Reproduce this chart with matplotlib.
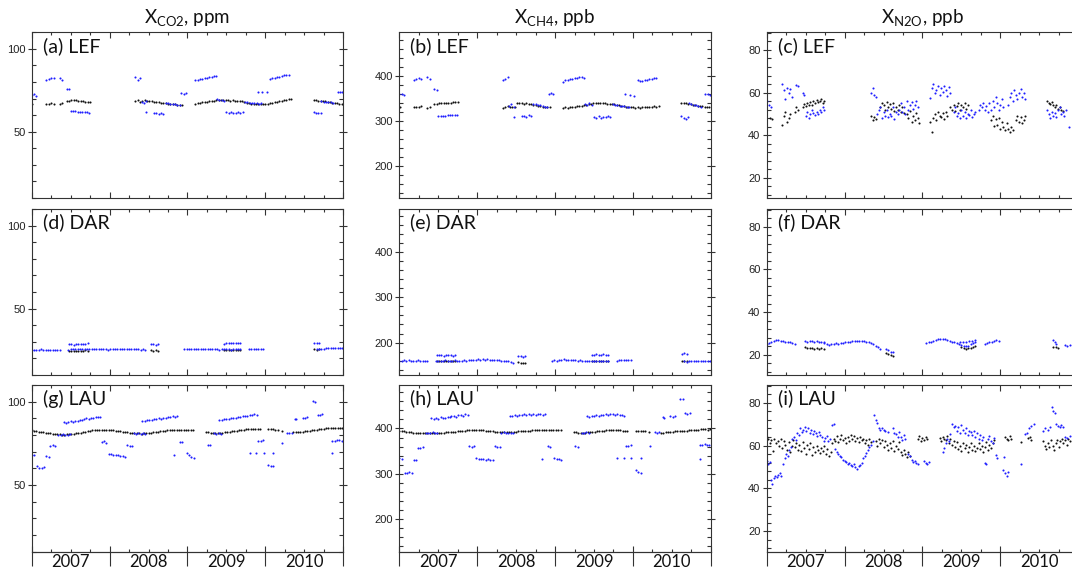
import matplotlib.pyplot as plt
from matplotlib.ticker import MultipleLocator

plt.rcParams['font.family'] = ['Lato', 'DejaVu Sans']

# ---------------- LEF : CO2 / CH4 (same sampling times) ----------------
lef_blue_t = [2007.00, 2007.03, 2007.06,
              2007.19, 2007.22, 2007.25, 2007.28,
              2007.36, 2007.39,
              2007.45, 2007.48,
              2007.50, 2007.53, 2007.56, 2007.59, 2007.62, 2007.65, 2007.68, 2007.71, 2007.74,
              2008.33, 2008.36, 2008.39,
              2008.41, 2008.44, 2008.47, 2008.47,
              2008.57, 2008.60, 2008.63, 2008.66, 2008.69,
              2008.72, 2008.75, 2008.78, 2008.81, 2008.84, 2008.87, 2008.90,
              2008.92, 2008.95, 2008.98,
              2009.10, 2009.13, 2009.16, 2009.19, 2009.22, 2009.25, 2009.28, 2009.31, 2009.34, 2009.37,
              2009.38, 2009.41, 2009.44, 2009.47,
              2009.50, 2009.53, 2009.56, 2009.59, 2009.62, 2009.65, 2009.68, 2009.71,
              2009.74, 2009.77, 2009.80, 2009.83, 2009.86, 2009.89, 2009.92, 2009.95,
              2009.90, 2009.96, 2010.02,
              2010.06, 2010.09, 2010.12, 2010.15, 2010.18, 2010.21, 2010.24, 2010.27, 2010.30,
              2010.62, 2010.65, 2010.68, 2010.71,
              2010.72, 2010.75, 2010.78, 2010.81, 2010.84, 2010.87,
              2010.93, 2010.96, 2010.99]
lef_co2_blue = [72, 72.5, 71.8,
                81.5, 82, 82.3, 82.5,
                82.5, 81.5,
                75.8, 75.5,
                62.5, 62.4, 62.3, 62.2, 62, 61.9, 61.8, 61.6, 61.5,
                83, 81, 82.5,
                68, 67.5, 68.5, 62,
                61.5, 61, 60.8, 61.2, 60.5,
                67.5, 67.2, 67, 66.8, 66.5, 66.3, 66,
                73.2, 73, 73.3,
                81.2, 81.5, 81.8, 82, 82.3, 82.6, 83, 83.3, 83.6, 83.8,
                69.5, 69, 69.2, 68.8,
                62, 61.5, 61.8, 61, 61.5, 62, 61.3, 61.8,
                68, 67.8, 67.5, 67.3, 67.5, 67.2, 67, 67.2,
                74, 74.2, 73.8,
                82, 82.3, 82.6, 83, 83.3, 83.6, 84, 84.2, 84.5,
                62, 61.5, 61, 61.3,
                68.5, 68.2, 68, 67.8, 68, 67.6,
                74, 74.2, 74]
lef_ch4_blue = [358, 360, 357,
                391, 393, 394, 392,
                396, 393,
                369, 368,
                310, 310, 311, 311, 312, 312, 312, 313, 313,
                389, 393, 396,
                333, 336, 331, 308,
                310, 311, 309, 312, 310,
                336, 337, 335, 334, 332, 331, 330,
                358, 362, 360,
                386, 389, 391, 392, 393, 394, 395, 396, 397, 395,
                336, 334, 338, 335,
                308, 305, 310, 306, 309, 307, 311, 308,
                336, 334, 335, 333, 332, 333, 331, 330,
                359, 356, 355,
                389, 388, 387, 389, 390, 392, 393, 394, 395,
                310, 306, 304, 308,
                338, 336, 335, 334, 333, 331,
                358, 359, 357]

lef_black_t = [2007.01,
               2007.19, 2007.22, 2007.25, 2007.28,
               2007.36, 2007.39,
               2007.45, 2007.48, 2007.51, 2007.54, 2007.57, 2007.60, 2007.63, 2007.66, 2007.69, 2007.72, 2007.75,
               2008.33, 2008.36, 2008.39, 2008.42, 2008.45, 2008.48,
               2008.51, 2008.54, 2008.57, 2008.60, 2008.63, 2008.66, 2008.69, 2008.72, 2008.75, 2008.78,
               2008.81, 2008.84, 2008.87, 2008.90, 2008.93,
               2009.10, 2009.13, 2009.16, 2009.19, 2009.22, 2009.25, 2009.28, 2009.31, 2009.34,
               2009.37, 2009.40, 2009.43, 2009.46, 2009.49, 2009.52, 2009.55, 2009.58, 2009.61, 2009.64,
               2009.67, 2009.70, 2009.73,
               2009.76, 2009.79, 2009.82, 2009.85, 2009.88, 2009.91, 2009.94, 2009.97, 2010.00,
               2010.03, 2010.06, 2010.09, 2010.12, 2010.15, 2010.18, 2010.21, 2010.24, 2010.27, 2010.30, 2010.33,
               2010.62, 2010.65, 2010.68, 2010.71, 2010.74, 2010.77, 2010.80, 2010.83, 2010.86, 2010.89,
               2010.92, 2010.95, 2010.98]
lef_co2_black = [66.5,
                 66.5, 67, 67.2, 67,
                 66.5, 67.5,
                 68.5, 68.8, 69, 69.1, 69, 68.8, 68.6, 68.4, 68.2, 68, 67.8,
                 68.5, 69, 68, 68.5, 69, 68.5,
                 68.5, 68.3, 68.2, 68, 67.8, 67.6, 67.4, 67.2, 67, 66.8,
                 66.6, 66.5, 66.3, 66.2, 66.2,
                 67, 67.2, 67.5, 67.8, 68, 68.2, 68.4, 68.6, 68.8,
                 69, 69.2, 69.1, 69, 69.2, 69, 68.8, 69, 68.8, 68.6,
                 68.8, 68.5, 68.2,
                 67.5, 67.3, 67, 67, 66.8, 66.9, 67, 66.8, 67,
                 67, 67.3, 67.6, 67.8, 68, 68.3, 68.6, 69, 69.3, 69.6, 70,
                 69.2, 69, 68.8, 68.6, 68.5, 68.3, 68, 67.8, 67.6, 67.4,
                 67.2, 67, 67]
lef_ch4_black = [329,
                 329, 331, 330, 332,
                 328, 331,
                 336, 337, 338, 338, 339, 339, 340, 340, 341, 341, 342,
                 328, 331, 332, 330, 329, 331,
                 338, 339, 338, 337, 338, 336, 336, 335, 334, 333,
                 332, 331, 330, 330, 329,
                 327, 329, 328, 330, 331, 330, 332, 333, 332,
                 334, 335, 337, 336, 338, 339, 338, 340, 339, 338,
                 337, 336, 336,
                 336, 335, 334, 333, 332, 331, 330, 330, 329,
                 328, 329, 328, 330, 330, 331, 330, 331, 332, 331, 332,
                 340, 339, 338, 337, 336, 335, 334, 333, 332, 332,
                 331, 330, 330]

# ---------------- LEF : N2O (time, ppb) ----------------
lef_n2o_blue = [(2007.00, 56), (2007.03, 54), (2007.06, 53),
                (2007.20, 64), (2007.22, 61), (2007.24, 57), (2007.26, 62), (2007.28, 60), (2007.30, 61.5), (2007.32, 58),
                (2007.38, 63.5), (2007.40, 63), (2007.46, 60), (2007.48, 59),
                (2007.50, 49), (2007.52, 51), (2007.54, 48), (2007.56, 50), (2007.58, 52), (2007.60, 50.5),
                (2007.62, 49.5), (2007.64, 51), (2007.66, 50), (2007.68, 52), (2007.70, 51), (2007.72, 53), (2007.74, 52),
                (2008.34, 60), (2008.36, 62), (2008.38, 59), (2008.40, 58),
                (2008.42, 50), (2008.44, 52), (2008.46, 53), (2008.48, 48), (2008.50, 51), (2008.52, 49), (2008.54, 52),
                (2008.56, 48.5), (2008.58, 50), (2008.60, 49), (2008.62, 53), (2008.64, 47.5), (2008.66, 51), (2008.68, 50),
                (2008.70, 52), (2008.72, 55), (2008.74, 51), (2008.76, 53), (2008.78, 50), (2008.80, 56), (2008.82, 52),
                (2008.84, 54), (2008.86, 55.5), (2008.88, 52.5), (2008.90, 54), (2008.92, 56), (2008.94, 53),
                (2009.10, 57.5), (2009.12, 62), (2009.14, 64), (2009.16, 60), (2009.18, 61), (2009.20, 63), (2009.22, 59),
                (2009.24, 62), (2009.26, 60.5), (2009.28, 63), (2009.30, 61), (2009.32, 58.5), (2009.34, 62.5), (2009.36, 60),
                (2009.40, 51), (2009.42, 53), (2009.44, 49), (2009.46, 50.5), (2009.48, 48), (2009.50, 52), (2009.52, 49),
                (2009.54, 51), (2009.56, 48), (2009.58, 50), (2009.60, 49.5), (2009.62, 52), (2009.64, 48.5), (2009.66, 50),
                (2009.68, 51), (2009.72, 52), (2009.74, 54), (2009.76, 53), (2009.78, 55), (2009.80, 52), (2009.82, 53.5),
                (2009.84, 51), (2009.86, 55), (2009.88, 52), (2009.90, 56), (2009.92, 53),
                (2009.94, 58), (2009.96, 55), (2009.98, 52), (2010.00, 54), (2010.02, 57), (2010.04, 53),
                (2010.10, 54), (2010.12, 58), (2010.14, 60), (2010.16, 56), (2010.18, 61), (2010.20, 59), (2010.22, 57),
                (2010.24, 60), (2010.26, 61.5), (2010.28, 58), (2010.30, 60), (2010.32, 57),
                (2010.60, 52), (2010.62, 50), (2010.64, 48), (2010.66, 51), (2010.68, 49), (2010.70, 50.5), (2010.72, 48.5),
                (2010.74, 52), (2010.76, 53), (2010.78, 50), (2010.80, 51), (2010.82, 49), (2010.84, 52), (2010.88, 44)]
lef_n2o_black = [(2007.04, 48), (2007.07, 47.5),
                 (2007.20, 45), (2007.22, 49), (2007.24, 51), (2007.26, 46), (2007.28, 48), (2007.30, 50),
                 (2007.36, 51), (2007.38, 53), (2007.40, 52),
                 (2007.46, 53), (2007.48, 54.5), (2007.50, 53.5), (2007.52, 55), (2007.54, 54), (2007.56, 55.5),
                 (2007.58, 54), (2007.60, 56), (2007.62, 55), (2007.64, 56.5), (2007.66, 55.5), (2007.68, 56),
                 (2007.70, 57), (2007.72, 55), (2007.74, 56),
                 (2008.34, 49), (2008.36, 47), (2008.38, 48.5), (2008.40, 47.5),
                 (2008.46, 53), (2008.48, 55), (2008.50, 54), (2008.52, 52), (2008.54, 55.5), (2008.56, 53),
                 (2008.58, 54.5), (2008.60, 52.5), (2008.62, 55), (2008.64, 51.5), (2008.66, 53), (2008.68, 52),
                 (2008.70, 54), (2008.72, 51), (2008.74, 53), (2008.76, 50.5),
                 (2008.80, 50), (2008.82, 48), (2008.84, 51.5), (2008.86, 46), (2008.88, 49), (2008.90, 47),
                 (2008.92, 50.5), (2008.94, 48), (2008.96, 45.5),
                 (2009.10, 46), (2009.12, 41.5), (2009.14, 48), (2009.16, 50), (2009.18, 47), (2009.20, 51),
                 (2009.22, 49), (2009.24, 48.5), (2009.26, 50.5), (2009.28, 47.5), (2009.30, 51), (2009.32, 49),
                 (2009.36, 53), (2009.38, 52), (2009.40, 54), (2009.42, 51.5), (2009.44, 53.5), (2009.46, 55),
                 (2009.48, 52), (2009.50, 54), (2009.52, 53), (2009.54, 55), (2009.56, 52.5), (2009.58, 54),
                 (2009.88, 47), (2009.90, 49), (2009.92, 44.5), (2009.94, 47.5), (2009.96, 45), (2009.98, 48),
                 (2010.00, 43), (2010.02, 46), (2010.04, 44), (2010.06, 42.5), (2010.08, 45.5), (2010.10, 43),
                 (2010.12, 41.5), (2010.14, 44), (2010.16, 42.5),
                 (2010.20, 47), (2010.22, 49), (2010.24, 46), (2010.26, 48.5), (2010.28, 45.5), (2010.30, 47), (2010.32, 49),
                 (2010.60, 56), (2010.62, 55), (2010.64, 54.5), (2010.66, 55.5), (2010.68, 54), (2010.70, 53),
                 (2010.72, 54), (2010.74, 52.5), (2010.76, 53), (2010.78, 52), (2010.80, 51.5)]

# ---------------- DAR : CO2 / CH4 ----------------
dar_blue_t = [2007.00, 2007.03, 2007.06, 2007.09, 2007.12, 2007.15, 2007.18, 2007.21, 2007.24, 2007.27,
              2007.30, 2007.33, 2007.36,
              2007.48, 2007.51, 2007.54, 2007.57, 2007.60, 2007.63, 2007.66, 2007.69, 2007.72,
              2007.47, 2007.50, 2007.53, 2007.56, 2007.59, 2007.62, 2007.65, 2007.68, 2007.71, 2007.74,
              2007.77, 2007.80, 2007.83, 2007.86, 2007.89, 2007.92, 2007.95, 2007.98, 2008.01, 2008.04,
              2008.07, 2008.10, 2008.13, 2008.16, 2008.19, 2008.22, 2008.25, 2008.28, 2008.31, 2008.34,
              2008.37, 2008.40, 2008.43, 2008.46,
              2008.53, 2008.56, 2008.59, 2008.62,
              2008.96, 2008.99, 2009.02, 2009.05, 2009.08, 2009.11, 2009.14, 2009.17, 2009.20, 2009.23,
              2009.26, 2009.29, 2009.32, 2009.35, 2009.38, 2009.41, 2009.44, 2009.47, 2009.50, 2009.53,
              2009.56, 2009.59, 2009.62, 2009.65, 2009.68,
              2009.47, 2009.50, 2009.53, 2009.56, 2009.59, 2009.62, 2009.65, 2009.68,
              2009.79, 2009.82, 2009.85, 2009.88, 2009.91, 2009.94, 2009.97,
              2010.63, 2010.66, 2010.69,
              2010.66, 2010.69, 2010.72, 2010.75, 2010.78, 2010.81, 2010.84, 2010.87, 2010.90, 2010.93,
              2010.96, 2010.99]
dar_co2_blue = [25.2, 25, 25.3, 25.1, 25.4, 25.2, 25, 25.3, 25.2, 25.1,
                25.3, 25, 25.2,
                28.4, 28.6, 28.3, 28.5, 28.4, 28.7, 28.5, 28.8, 29,
                25.3, 25.5, 25.4, 25.6, 25.5, 25.7, 25.6, 25.5, 25.7, 25.6,
                25.8, 25.5, 25.7, 25.6, 25.4, 25.6, 25.5, 25.3, 25.5, 25.4,
                25.6, 25.5, 25.7, 25.6, 25.8, 25.6, 25.5, 25.7, 25.5, 25.4,
                25.6, 25.3, 25.4, 25.2,
                28.4, 28.6, 28.2, 28.5,
                25.4, 25.6, 25.5, 25.7, 25.6, 25.8, 25.7, 25.6, 25.8, 25.7,
                25.5, 25.6, 25.4, 25.6, 25.5, 25.3, 25.5, 25.4, 25.6, 25.5,
                25.3, 25.6, 25.5, 25.4, 25.6,
                28.8, 29, 29.2, 29, 29.3, 29.1, 29.4, 29,
                25.4, 25.6, 25.7, 25.5, 25.8, 25.6, 25.7,
                29.5, 29, 29.3,
                25.6, 25.4, 25.5, 25.8, 26, 26.1, 26, 26.2, 26.1, 26,
                26.2, 26.1]
dar_ch4_blue = [159, 160, 161, 160, 161, 160, 159, 160, 161, 160,
                159, 160, 160,
                172, 173, 172, 171, 172, 173, 172, 171, 172,
                159, 160, 159, 160, 161, 160, 159, 160, 161, 160,
                160, 159, 161, 160, 161, 162, 161, 162, 163, 162,
                163, 162, 163, 162, 162, 161, 162, 161, 160, 160,
                159, 158, 157, 155,
                170, 171, 169, 170,
                160, 161, 160, 162, 161, 163, 162, 162, 161, 162,
                161, 160, 161, 160, 159, 160, 159, 160, 159, 160,
                160, 159, 160, 159, 160,
                172, 173, 174, 173, 172, 174, 173, 172,
                160, 161, 162, 161, 162, 161, 162,
                174, 176, 175,
                158, 157, 158, 159, 160, 159, 160, 159, 160, 159,
                160, 160]

dar_black_t = [2007.48, 2007.51, 2007.54, 2007.57, 2007.60, 2007.63, 2007.66, 2007.69, 2007.72,
               2008.53, 2008.56, 2008.59, 2008.62,
               2009.47, 2009.50, 2009.53, 2009.56, 2009.59, 2009.62, 2009.65, 2009.68,
               2010.63, 2010.66, 2010.69]
dar_co2_black = [24.3, 24.5, 24.4, 24.6, 24.5, 24.7, 24.6, 24.8, 24.7,
                 24.8, 24.6, 24.9, 24.7,
                 24.8, 25, 24.9, 25.1, 25, 25.2, 25.1, 25.3,
                 25.5, 25.3, 25.6]
dar_ch4_black = [158, 159, 158, 159, 158, 159, 158, 159, 159,
                 156, 155, 154, 155,
                 159, 158, 159, 160, 159, 158, 159, 160,
                 160, 159, 158]

# ---------------- DAR : N2O ----------------
dar_n2o_blue = [(2007.00, 25), (2007.03, 25.6), (2007.06, 26.2), (2007.09, 26.6), (2007.12, 26.8), (2007.15, 26.8),
                (2007.18, 26.6), (2007.21, 26.5), (2007.24, 26.2), (2007.27, 26), (2007.30, 25.8), (2007.33, 25.5),
                (2007.36, 25.2),
                (2007.49, 26.5), (2007.52, 26.2), (2007.55, 26.6), (2007.58, 26.3), (2007.61, 26), (2007.64, 26.4),
                (2007.67, 26.1), (2007.70, 25.8), (2007.73, 26),
                (2007.74, 25.5), (2007.77, 25), (2007.80, 24.7), (2007.83, 24.8), (2007.86, 25), (2007.89, 25.3),
                (2007.92, 25.2), (2007.95, 25.5), (2007.98, 25.6), (2008.01, 25.8), (2008.04, 26), (2008.07, 26.1),
                (2008.10, 26.3), (2008.13, 26.4), (2008.16, 26.5), (2008.19, 26.5), (2008.22, 26.4), (2008.25, 26.3),
                (2008.28, 26.1), (2008.31, 25.8), (2008.34, 25.4), (2008.37, 24.8), (2008.40, 24.2), (2008.43, 23.4),
                (2008.46, 22.6),
                (2008.53, 22.5), (2008.56, 22), (2008.59, 21.5), (2008.62, 21.2),
                (2009.05, 25.5), (2009.08, 25.8), (2009.11, 26.2), (2009.14, 26.6), (2009.17, 26.9), (2009.20, 27.2),
                (2009.23, 27.4), (2009.26, 27.3), (2009.29, 27.2), (2009.32, 26.9), (2009.35, 26.6), (2009.38, 26.2),
                (2009.41, 25.8), (2009.44, 25.4),
                (2009.47, 25), (2009.50, 24.6), (2009.53, 24.2), (2009.56, 24), (2009.59, 24.3), (2009.62, 24.8),
                (2009.65, 25.3), (2009.68, 25.8),
                (2009.48, 26), (2009.52, 25.8), (2009.56, 26), (2009.60, 26.3), (2009.64, 26.5), (2009.68, 26.8),
                (2009.80, 25), (2009.83, 25.3), (2009.86, 25.8), (2009.89, 26.2), (2009.92, 26.6), (2009.95, 27),
                (2009.98, 26.6),
                (2010.68, 27), (2010.70, 26), (2010.72, 25),
                (2010.83, 24.5), (2010.86, 24.3), (2010.89, 24.6)]
dar_n2o_black = [(2007.49, 23.5), (2007.52, 23.2), (2007.55, 23), (2007.58, 23.3), (2007.61, 22.8), (2007.64, 23.1),
                 (2007.67, 22.7), (2007.70, 23), (2007.73, 22.6),
                 (2008.53, 21), (2008.56, 20.3), (2008.59, 19.8), (2008.62, 19.3),
                 (2009.50, 23.8), (2009.53, 23.2), (2009.56, 22.8), (2009.59, 23), (2009.62, 23.3), (2009.65, 23.8),
                 (2009.68, 24),
                 (2010.68, 23.5), (2010.71, 23.8), (2010.74, 23.3)]

# ---------------- LAU : CO2 / CH4 ----------------
lau_blue_t = [2007.00, 2007.03,
              2007.07, 2007.10, 2007.13, 2007.16,
              2007.19, 2007.22,
              2007.24, 2007.27, 2007.30,
              2007.34, 2007.37, 2007.40, 2007.43, 2007.46, 2007.49,
              2007.41, 2007.44, 2007.47, 2007.50, 2007.53, 2007.56, 2007.59, 2007.62, 2007.65,
              2007.67, 2007.70, 2007.73, 2007.76, 2007.79, 2007.82, 2007.85, 2007.88,
              2007.90, 2007.93, 2007.96,
              2007.99, 2008.02, 2008.05, 2008.08, 2008.11, 2008.14, 2008.17, 2008.20,
              2008.23, 2008.26, 2008.29,
              2008.31, 2008.34, 2008.37, 2008.40, 2008.43, 2008.46,
              2008.42, 2008.45, 2008.48, 2008.51, 2008.54, 2008.57, 2008.60, 2008.63, 2008.66, 2008.69,
              2008.72, 2008.75, 2008.78, 2008.81, 2008.84, 2008.87,
              2008.83,
              2008.91, 2008.93,
              2008.99, 2009.02, 2009.05, 2009.08,
              2009.26, 2009.29,
              2009.34, 2009.37, 2009.40, 2009.43,
              2009.41, 2009.44, 2009.47, 2009.50, 2009.53, 2009.56, 2009.59, 2009.62, 2009.65, 2009.68,
              2009.71, 2009.74, 2009.77, 2009.80, 2009.83, 2009.86, 2009.89,
              2009.91, 2009.94, 2009.97,
              2009.80, 2009.88, 2009.98, 2010.10,
              2010.04, 2010.07, 2010.10,
              2010.22,
              2010.28, 2010.31, 2010.34,
              2010.38, 2010.40,
              2010.48, 2010.51, 2010.54,
              2010.61, 2010.64,
              2010.67, 2010.70, 2010.73,
              2010.86, 2010.89, 2010.92, 2010.95, 2010.98,
              2010.86]
lau_co2_blue = [68.3, 68,
                61.5, 60.5, 60, 61,
                67.3, 67,
                73.7, 74, 73.5,
                80.3, 80, 80.5, 80.2, 80, 80.4,
                87.8, 87.5, 88, 88.2, 88, 88.5, 88.3, 88.8, 89,
                89.5, 90, 89.8, 90.3, 90.5, 90.8, 91, 90.6,
                75.9, 76.2, 75.5,
                68.9, 68.5, 68.2, 68, 67.8, 67.5, 67.2, 67,
                74, 73.6, 73.3,
                81, 80.8, 81.2, 80.5, 81, 80.7,
                88.4, 88.6, 88.8, 89, 89.2, 89.5, 89.7, 90, 89.8, 90.2,
                90.5, 90.8, 91, 91.2, 90.9, 91.4,
                68,
                75.9, 76,
                69, 68, 67, 66.3,
                74.3, 74,
                81, 80.7, 81.2, 80.8,
                89, 89.2, 89.4, 89.6, 89.8, 90, 90.2, 90.5, 90.8, 91,
                91.2, 91.5, 91.7, 92, 92.2, 92.4, 92.2,
                76.7, 76.5, 76.8,
                69.3, 69.3, 69.3, 69,
                62.2, 61.5, 61.2,
                75.3,
                81.3, 81, 81.5,
                89.4, 89.8,
                90.2, 90.5, 90.8,
                100.4, 100,
                91.8, 92.2, 92.4,
                76.7, 76.5, 77, 76.8, 76.6,
                69]
lau_ch4_blue = [334, 333,
                302, 301, 303, 302,
                330, 331,
                358, 357, 359,
                391, 389, 390, 392, 390, 389,
                423, 421, 424, 422, 425, 423, 424, 426, 425,
                427, 428, 426, 429, 430, 428, 431, 429,
                361, 360, 362,
                334, 333, 332, 333, 331, 332, 330, 331,
                361, 359, 360,
                391, 392, 390, 389, 391, 390,
                427, 428, 429, 428, 430, 429, 431, 430, 432, 429,
                431, 430, 432, 431, 430, 432,
                333,
                361, 360,
                334, 333, 332, 331,
                361, 360,
                391, 390, 392, 391,
                427, 426, 428, 427, 429, 428, 430, 429, 431, 430,
                432, 431, 430, 431, 429, 430, 428,
                362, 361, 363,
                334, 334, 334, 334,
                308, 303, 302,
                361,
                392, 391, 393,
                425, 424,
                427, 426, 428,
                466, 464,
                434, 433, 435,
                364, 363, 365, 364, 363,
                332]

lau_black_t = [2007.00, 2007.03, 2007.06, 2007.09, 2007.12, 2007.15, 2007.18, 2007.21, 2007.24, 2007.27,
               2007.30, 2007.33, 2007.36, 2007.39, 2007.42, 2007.45, 2007.48, 2007.51, 2007.54, 2007.57,
               2007.60, 2007.63, 2007.66, 2007.69, 2007.72, 2007.75, 2007.78, 2007.81, 2007.84, 2007.87,
               2007.90, 2007.93, 2007.96, 2007.99,
               2008.02, 2008.05, 2008.08, 2008.11, 2008.14, 2008.17, 2008.20, 2008.23, 2008.26, 2008.29,
               2008.32, 2008.35, 2008.38, 2008.41, 2008.44, 2008.47, 2008.50, 2008.53, 2008.56, 2008.59,
               2008.62, 2008.65, 2008.68, 2008.71, 2008.74, 2008.77, 2008.80, 2008.83, 2008.86, 2008.89,
               2008.92, 2008.95, 2008.98,
               2009.01, 2009.04, 2009.07,
               2009.24, 2009.27, 2009.30, 2009.33, 2009.36, 2009.39, 2009.42, 2009.45, 2009.48, 2009.51,
               2009.54, 2009.57, 2009.60, 2009.63, 2009.66, 2009.69, 2009.72, 2009.75, 2009.78, 2009.81,
               2009.84, 2009.87, 2009.90, 2009.93,
               2010.04, 2010.07, 2010.10, 2010.13, 2010.16,
               2010.21,
               2010.36, 2010.39, 2010.42, 2010.45, 2010.48, 2010.51, 2010.54, 2010.57, 2010.60, 2010.63,
               2010.66, 2010.69, 2010.72, 2010.75, 2010.78, 2010.81, 2010.84, 2010.87, 2010.90, 2010.93,
               2010.96, 2010.99]
lau_co2_black = [83, 82.6, 82.3, 82, 81.8, 81.6, 81.4, 81.2, 81, 80.8,
                 80.6, 80.5, 80.4, 80.3, 80.3, 80.4, 80.5, 80.6, 80.8, 81,
                 81.3, 81.5, 81.8, 82, 82.3, 82.5, 82.8, 83, 83.1, 83.2,
                 83.3, 83.3, 83.2, 83.1,
                 83, 82.8, 82.6, 82.4, 82.2, 82, 81.8, 81.6, 81.4, 81.2,
                 81.1, 81, 81, 80.9, 81, 81, 81.2, 81.4, 81.6, 81.8,
                 82, 82.2, 82.4, 82.6, 82.8, 83, 83.1, 83.2, 83.3, 83.3,
                 83.3, 83.2, 83.2,
                 83.3, 83.1, 83,
                 81.8, 81.6, 81.5, 81.4, 81.3, 81.3, 81.4, 81.5, 81.7, 81.9,
                 82.1, 82.3, 82.5, 82.7, 82.9, 83.1, 83.3, 83.4, 83.5, 83.6,
                 83.6, 83.7, 83.6, 83.6,
                 83.8, 83.6, 83.4, 83.2, 83,
                 82.6,
                 81.8, 81.6, 81.7, 81.9, 82.1, 82.3, 82.5, 82.7, 82.9, 83.1,
                 83.3, 83.5, 83.7, 83.9, 84, 84.1, 84.2, 84.3, 84.3, 84.2,
                 84.1, 84]
lau_ch4_black = [395, 394, 394, 393, 392, 392, 391, 391, 390, 390,
                 389, 389, 389, 389, 390, 390, 390, 391, 391, 391,
                 392, 392, 393, 393, 393, 394, 394, 395, 395, 396,
                 396, 396, 397, 397,
                 397, 396, 396, 395, 395, 394, 394, 393, 393, 392,
                 392, 392, 392, 392, 393, 393, 393, 394, 394, 394,
                 395, 395, 395, 396, 396, 396, 396, 397, 397, 396,
                 397, 396, 396,
                 397, 396, 396,
                 392, 392, 391, 391, 391, 391, 392, 392, 393, 393,
                 394, 394, 395, 395, 396, 396, 396, 397, 397, 396,
                 396, 395, 395, 395,
                 395, 394, 395, 394, 394,
                 393,
                 391, 391, 392, 392, 393, 393, 394, 394, 394, 395,
                 395, 395, 396, 396, 397, 397, 397, 398, 398, 398,
                 397, 398]

# ---------------- LAU : N2O ----------------
lau_n2o_blue = [(2007.00, 53), (2007.02, 51.5), (2007.04, 52.5), (2007.06, 44), (2007.07, 42), (2007.09, 45),
                (2007.11, 46), (2007.13, 45.5), (2007.15, 46.5), (2007.17, 47), (2007.19, 46), (2007.21, 51.5),
                (2007.23, 54), (2007.25, 56), (2007.27, 55), (2007.29, 58), (2007.31, 59.5), (2007.33, 63),
                (2007.35, 64), (2007.37, 62.5), (2007.39, 66), (2007.41, 65), (2007.43, 68), (2007.45, 66.5),
                (2007.47, 67.5), (2007.49, 68.5), (2007.51, 67), (2007.53, 68), (2007.55, 66), (2007.57, 67.5),
                (2007.59, 65.5), (2007.61, 67), (2007.63, 66), (2007.65, 64.5), (2007.67, 66.5), (2007.69, 65),
                (2007.71, 64), (2007.73, 62), (2007.75, 63.5), (2007.77, 64.5), (2007.79, 62), (2007.81, 63),
                (2007.84, 69.5), (2007.86, 70), (2007.88, 58.5), (2007.90, 57), (2007.92, 56), (2007.94, 55),
                (2007.96, 54.5), (2007.98, 53.5), (2008.00, 53), (2008.02, 52.5), (2008.04, 51.5), (2008.06, 52),
                (2008.08, 51), (2008.10, 50.5), (2008.12, 51.5), (2008.14, 50), (2008.16, 49), (2008.18, 50.5),
                (2008.20, 51), (2008.22, 52), (2008.24, 54), (2008.26, 55), (2008.28, 56.5), (2008.30, 58),
                (2008.32, 59.5), (2008.34, 60.5), (2008.36, 62), (2008.38, 74.5), (2008.40, 72), (2008.42, 70.5),
                (2008.44, 68), (2008.46, 67.5), (2008.48, 68), (2008.50, 67.5), (2008.52, 67), (2008.56, 66.5),
                (2008.62, 68), (2008.64, 66), (2008.66, 65.5), (2008.68, 64), (2008.70, 66.5), (2008.72, 64),
                (2008.74, 62.5), (2008.76, 65), (2008.78, 63), (2008.82, 56), (2008.84, 55), (2008.86, 53.5),
                (2008.88, 52.5), (2008.90, 53), (2008.92, 52), (2008.94, 51.5),
                (2009.02, 53), (2009.04, 52), (2009.06, 51.5), (2009.08, 52.5),
                (2009.26, 57), (2009.28, 59), (2009.30, 61), (2009.32, 63), (2009.34, 62), (2009.36, 65.5),
                (2009.38, 70), (2009.40, 68.5), (2009.42, 69), (2009.44, 67), (2009.46, 68.5), (2009.48, 66),
                (2009.50, 69.5), (2009.52, 67.5), (2009.54, 66), (2009.56, 68), (2009.58, 65), (2009.60, 67),
                (2009.62, 66.5), (2009.64, 65), (2009.66, 67), (2009.68, 64), (2009.70, 66), (2009.72, 63),
                (2009.74, 65), (2009.76, 62.5), (2009.78, 64), (2009.80, 52), (2009.82, 51.5), (2009.84, 63),
                (2009.86, 64.5), (2009.88, 62), (2009.90, 61), (2009.92, 63.5), (2009.94, 55.5), (2009.96, 54),
                (2010.04, 48.5), (2010.06, 47), (2010.08, 46), (2010.10, 47.5), (2010.05, 54.5),
                (2010.26, 51.5), (2010.32, 65.5), (2010.34, 66), (2010.37, 68), (2010.40, 69), (2010.43, 70),
                (2010.55, 67), (2010.58, 68), (2010.61, 67.5), (2010.64, 68.6), (2010.66, 78), (2010.68, 76),
                (2010.70, 75), (2010.72, 70), (2010.74, 69), (2010.76, 68.5), (2010.78, 69.5), (2010.80, 68.6),
                (2010.83, 64), (2010.86, 63.5), (2010.89, 64.5)]
lau_n2o_black = [(2007.00, 64), (2007.02, 63), (2007.04, 61), (2007.06, 62.5), (2007.08, 57.5), (2007.10, 63),
                 (2007.12, 61), (2007.14, 62), (2007.16, 60), (2007.18, 63), (2007.20, 59), (2007.22, 62),
                 (2007.24, 60.5), (2007.26, 58), (2007.28, 61.5), (2007.30, 57), (2007.32, 60), (2007.34, 62.5),
                 (2007.36, 59.5), (2007.38, 61), (2007.40, 58), (2007.42, 60.5), (2007.44, 57.5), (2007.46, 61.5),
                 (2007.48, 59), (2007.50, 56), (2007.52, 60.5), (2007.54, 58.5), (2007.56, 61), (2007.58, 55.5),
                 (2007.60, 59.5), (2007.62, 57), (2007.64, 60), (2007.66, 58), (2007.68, 56.5), (2007.70, 59),
                 (2007.72, 57.5), (2007.74, 60), (2007.76, 56), (2007.78, 58.5), (2007.80, 55), (2007.82, 57),
                 (2007.84, 61), (2007.86, 63), (2007.88, 62), (2007.90, 64.5), (2007.92, 61.5), (2007.94, 63),
                 (2007.96, 65), (2007.98, 62.5), (2008.00, 63.5), (2008.02, 61), (2008.04, 64), (2008.06, 62),
                 (2008.08, 65), (2008.10, 63), (2008.12, 64.5), (2008.14, 62), (2008.16, 63.5), (2008.18, 61.5),
                 (2008.20, 64), (2008.22, 62.5), (2008.24, 63), (2008.26, 61), (2008.28, 62.5), (2008.30, 60.5),
                 (2008.32, 63), (2008.34, 61.5), (2008.40, 62), (2008.42, 60), (2008.44, 63), (2008.46, 61),
                 (2008.48, 62.5), (2008.50, 59.5), (2008.52, 62), (2008.54, 60.5), (2008.56, 58), (2008.58, 61),
                 (2008.60, 59), (2008.62, 62), (2008.64, 57.5), (2008.66, 60), (2008.68, 58.5), (2008.70, 61.5),
                 (2008.72, 57), (2008.74, 55.5), (2008.76, 58), (2008.78, 56), (2008.80, 54.5), (2008.82, 57),
                 (2008.84, 55), (2008.94, 63), (2008.96, 64.5), (2008.98, 62), (2009.00, 63.5), (2009.02, 62.5),
                 (2009.04, 64), (2009.06, 63),
                 (2009.22, 63.5), (2009.24, 62), (2009.26, 64), (2009.28, 63), (2009.30, 62.5), (2009.32, 64.5),
                 (2009.34, 61), (2009.36, 63), (2009.38, 60.5), (2009.40, 62), (2009.42, 59.5), (2009.44, 61.5),
                 (2009.46, 58.5), (2009.48, 60), (2009.50, 57.5), (2009.52, 61), (2009.54, 59), (2009.56, 60.5),
                 (2009.58, 57), (2009.60, 59.5), (2009.62, 61), (2009.64, 58), (2009.66, 60), (2009.68, 57.5),
                 (2009.70, 59), (2009.72, 61), (2009.74, 58.5), (2009.76, 60), (2009.78, 57), (2009.80, 59.5),
                 (2009.82, 61.5), (2009.84, 58), (2009.86, 60.5), (2009.88, 59), (2009.90, 61), (2009.92, 62.5),
                 (2010.06, 64), (2010.08, 63), (2010.10, 62.5), (2010.12, 64.5), (2010.14, 63), (2010.26, 61.5),
                 (2010.36, 63.5), (2010.38, 64), (2010.40, 62.5),
                 (2010.55, 62), (2010.57, 60), (2010.59, 58.5), (2010.61, 61), (2010.63, 59.5), (2010.65, 62.5),
                 (2010.67, 60), (2010.69, 58), (2010.71, 61), (2010.73, 62.5), (2010.75, 59.5), (2010.77, 62),
                 (2010.79, 63), (2010.81, 61), (2010.83, 62.5), (2010.85, 60.5), (2010.87, 63), (2010.89, 62)]

titles = [r'X$_{\mathregular{CO2}}$, ppm', r'X$_{\mathregular{CH4}}$, ppb', r'X$_{\mathregular{N2O}}$, ppb']
sites = ['LEF', 'DAR', 'LAU']
years = ['2007', '2008', '2009', '2010']

BLUE = '#1f1fff'
BLACK = '#111111'
SPINE = '#333333'


def split(pairs):
    return [p[0] for p in pairs], [p[1] for p in pairs]


# (black t, black v, blue t, blue v) for each row / column
panels = [
    [(lef_black_t, lef_co2_black, lef_blue_t, lef_co2_blue),
     (lef_black_t, lef_ch4_black, lef_blue_t, lef_ch4_blue),
     (*split(lef_n2o_black), *split(lef_n2o_blue))],
    [(dar_black_t, dar_co2_black, dar_blue_t, dar_co2_blue),
     (dar_black_t, dar_ch4_black, dar_blue_t, dar_ch4_blue),
     (*split(dar_n2o_black), *split(dar_n2o_blue))],
    [(lau_black_t, lau_co2_black, lau_blue_t, lau_co2_blue),
     (lau_black_t, lau_ch4_black, lau_blue_t, lau_ch4_blue),
     (*split(lau_n2o_black), *split(lau_n2o_blue))],
]

ylims = [(10, 110), (128, 496), (10.5, 88.3)]
ymajor = [50, 100, 20]
yminor = [10, 20, 4]

W, H = 1072, 572
fig = plt.figure(figsize=(W / 100, H / 100), dpi=100)

col_left = [31.7, 399.3, 766.7]
row_top = [32.3, 209, 385]
row_bot = [198, 375, 551.7]
ax_w = 311.5

letters = 'abcdefghi'
for r in range(3):
    for c in range(3):
        ax = fig.add_axes([col_left[c] / W, 1 - row_bot[r] / H, ax_w / W, (row_bot[r] - row_top[r]) / H])
        kt, kv, bt, bv = panels[r][c]
        ax.plot(kt, kv, ls='none', marker='o', ms=1.5, mew=0, color=BLACK)
        ax.plot(bt, bv, ls='none', marker='o', ms=1.5, mew=0, color=BLUE)

        ax.set_xlim(2007, 2011)
        ax.set_ylim(*ylims[c])
        ax.xaxis.set_major_locator(MultipleLocator(1))
        ax.xaxis.set_minor_locator(MultipleLocator(0.25))
        ax.yaxis.set_major_locator(MultipleLocator(ymajor[c]))
        ax.yaxis.set_minor_locator(MultipleLocator(yminor[c]))
        ax.tick_params(which='both', top=True, right=True, labelbottom=False,
                       color=SPINE, width=0.8)
        ax.tick_params(axis='x', which='major', direction='in', length=4.5)
        ax.tick_params(axis='x', which='minor', direction='in', length=2.5)
        ax.tick_params(axis='y', which='major', direction='inout', length=6,
                       labelsize=8, labelcolor='#222222', pad=1.5,
                       labelfontfamily='Liberation Sans')
        ax.tick_params(axis='y', which='minor', direction='in', length=3)
        for s in ax.spines.values():
            s.set_color(SPINE)
            s.set_linewidth(0.8)

        ax.text(0.035, 0.972, '(%s) %s' % (letters[3 * r + c], sites[r]),
                transform=ax.transAxes, ha='left', va='top', fontsize=14, color='#111111')

        if r == 2:
            sec = ax.secondary_xaxis('bottom')
            sec.xaxis.set_major_locator(MultipleLocator(1))
            sec.set_xticks([2007.5, 2008.5, 2009.5, 2010.5], labels=years, minor=True)
            sec.tick_params(which='major', direction='out', length=10, width=0.8,
                            color=SPINE, labelbottom=False)
            sec.tick_params(which='minor', length=0, pad=2, labelsize=12, labelcolor='#111111')
            sec.spines['bottom'].set_color(SPINE)
            sec.spines['bottom'].set_linewidth(0.8)

for c in range(3):
    fig.text((col_left[c] + ax_w / 2) / W, 1 - 18 / H, titles[c],
             ha='center', va='center', fontsize=13.5, color='#111111')

fig.savefig('out.png', dpi=100)
